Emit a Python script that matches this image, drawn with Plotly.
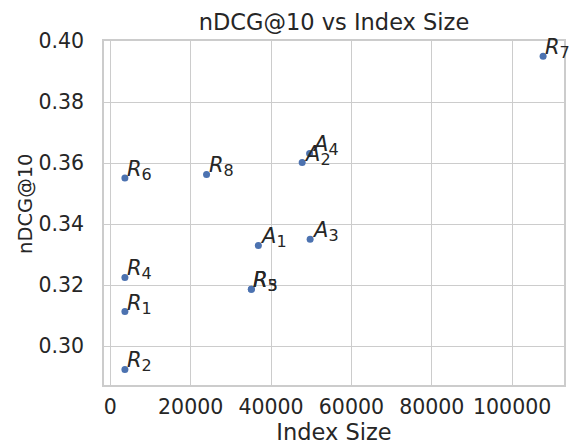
import plotly.graph_objects as go

labels = ["R1", "R2", "R3", "R4", "R5", "R6", "R7", "R8", "A1", "A2", "A3", "A4"]
index_size = [3640, 3640, 35110, 3640, 35110, 3640, 107700, 23960, 36850, 47750, 49730, 49600]
ndcg10 = [0.3113, 0.2923, 0.3186, 0.3225, 0.3186, 0.3551, 0.3951, 0.3563, 0.3330, 0.3602, 0.3350, 0.3632]

x_ticks = [0, 20000, 40000, 60000, 80000, 100000]
y_ticks = [0.30, 0.32, 0.34, 0.36, 0.38, 0.40]

FONT = "DejaVu Sans"
TXT = "#262626"
GRID = "#cccccc"

fig = go.Figure()
fig.add_trace(go.Scatter(
    x=index_size, y=ndcg10, mode="markers",
    marker=dict(color="#4C72B0", size=7, line=dict(width=0)),
    hoverinfo="skip", showlegend=False,
))

for lab, xv, yv in zip(labels, index_size, ndcg10):
    fig.add_annotation(
        x=xv, y=yv, xref="x", yref="y",
        text=f"<i>{lab[0]}</i><sub><span style='font-size:16px'>{lab[1:]}</span></sub>",
        showarrow=False, xanchor="left", yanchor="bottom",
        xshift=0, yshift=-8,
        font=dict(family=FONT, size=21, color=TXT),
    )

# y-axis title as a rotated annotation
fig.add_annotation(
    x=-0.172, y=0.526, xref="paper", yref="paper",
    text="nDCG@10", textangle=-90, showarrow=False,
    xanchor="center", yanchor="middle",
    font=dict(family=FONT, size=19.5, color=TXT),
)

fig.update_layout(
    width=573, height=445,
    margin=dict(l=104, r=9, t=41, b=60, autoexpand=False),
    paper_bgcolor="white", plot_bgcolor="white",
    font=dict(family=FONT, color=TXT),
    title=dict(text="nDCG@10 vs Index Size", x=0.5, xanchor="center",
               xref="paper", y=1, yref="container", yanchor="top", pad=dict(t=14),
               font=dict(family=FONT, size=22.5, color=TXT)),
    showlegend=False,
)
fig.update_xaxes(
    range=[-1560, 112900], tickvals=x_ticks, ticktext=[str(v) for v in x_ticks],
    showgrid=True, gridcolor=GRID, gridwidth=1.3, zeroline=False,
    showline=True, linecolor=GRID, linewidth=1.5, mirror=True, automargin=False,
    ticks="", ticklabelstandoff=3, tickfont=dict(family=FONT, size=20.5, color=TXT),
    title=dict(text="Index Size", font=dict(family=FONT, size=22.5, color=TXT), standoff=5),
)
fig.update_yaxes(
    range=[0.2872, 0.4001], tickvals=y_ticks, ticktext=[f"{v:.2f}" for v in y_ticks],
    showgrid=True, gridcolor=GRID, gridwidth=1.3, zeroline=False,
    showline=True, linecolor=GRID, linewidth=1.5, mirror=True, automargin=False,
    ticks="", ticklabelstandoff=14, tickfont=dict(family=FONT, size=20.5, color=TXT),
)

fig.write_html("out.html", config={"displayModeBar": False},
               post_script="document.body.style.margin='0';")
